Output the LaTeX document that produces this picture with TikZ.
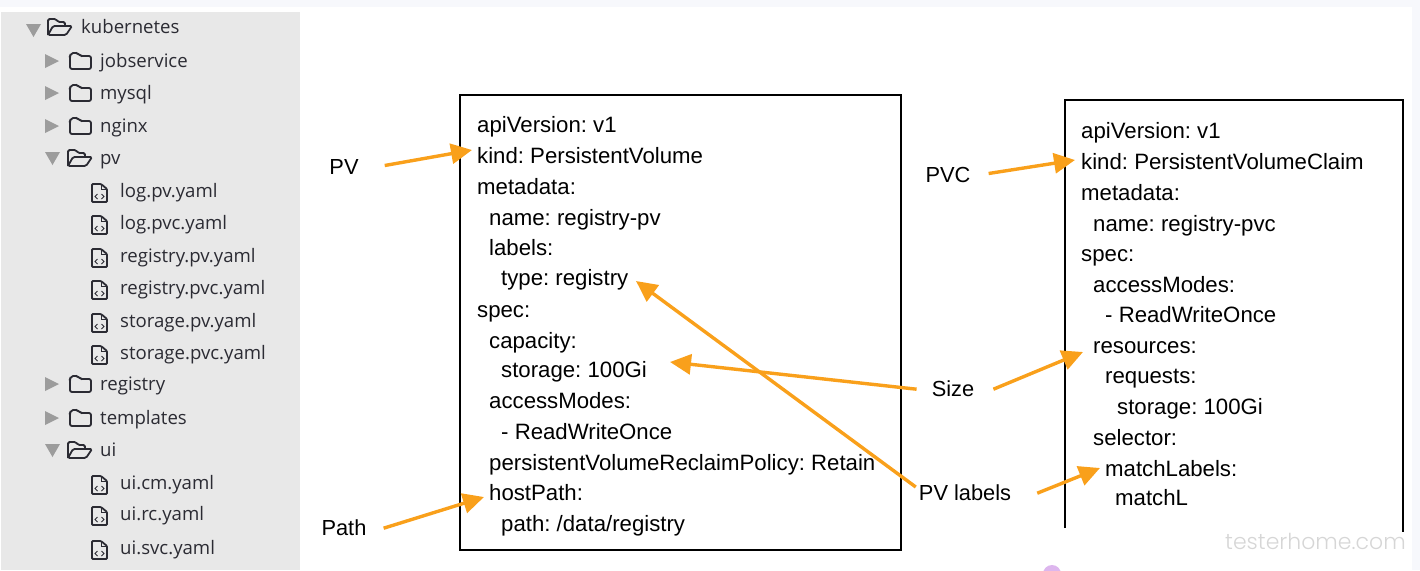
\documentclass[tikz,border=0pt]{standalone}
\usepackage{fontspec}
\usepackage{xcolor}
\usetikzlibrary{arrows.meta,positioning}
\setmainfont{Liberation Sans}
\newfontfamily\treefont{Open Sans}
\newfontfamily\markfont{Poppins Light}
\definecolor{panelgray}{HTML}{E8E8E8}
\definecolor{stripblue}{HTML}{F7F8FC}
\definecolor{arroworange}{HTML}{F9A01B}
\definecolor{tritone}{HTML}{9C9C9C}
\definecolor{treeink}{HTML}{2B2B33}
\definecolor{dotpurple}{HTML}{DDB6EE}
\tikzset{
  codeline/.style={anchor=base west,inner sep=0pt,font=\fontsize{22.2}{24}\selectfont\frenchspacing},
  calllabel/.style={anchor=base,inner sep=0pt,font=\fontsize{21.8}{24}\selectfont},
  treeline/.style={anchor=base west,inner sep=0pt,text=treeink,font=\treefont\fontsize{18.6}{20}\selectfont},
  callout/.style={draw=arroworange,line width=3.4pt,-{Triangle[length=21pt,width=20pt]}},
  yamlbox/.style={draw=black,line width=2pt},
  closedfolder/.pic={
    \draw[line width=1.8pt,treeink,rounded corners=2pt] (0,-5) -- (0,8) -- (21,8) -- (21,-5) -- (10,-5) -- (8,-8) -- (1,-8) -- cycle;
  },
  openfolder/.pic={
    \draw[line width=1.8pt,treeink,rounded corners=1.5pt] (0,8) -- (0,-8) -- (8,-8) -- (10,-5) -- (17,-5) -- (17,-1);
    \draw[line width=1.8pt,treeink,rounded corners=1.5pt] (0,8) -- (5,-1) -- (24,-1) -- (18,8) -- cycle;
  },
  yamlfile/.pic={
    \draw[line width=1.8pt,treeink,rounded corners=1pt] (0,-9) -- (9,-9) -- (15,-4) -- (15,9) -- (0,9) -- cycle;
    \draw[line width=1pt,treeink] (9,-9) -- (9,-4) -- (15,-4);
    \draw[line width=.8pt,treeink] (5.5,1) -- (3,3.5) -- (5.5,6) (9.5,1) -- (12,3.5) -- (9.5,6);
  }
}
\begin{document}
\begin{tikzpicture}[x=1pt,y=-1pt]
\useasboundingbox (0,0) rectangle (1420,570);
\fill[stripblue] (0,0) rectangle (1420,7);
\fill[stripblue] (1412,0) rectangle (1420,570);
\fill[panelgray] (1,12) rectangle (300,570);
\fill[dotpurple] (1052,574) circle (9);
% file tree
\fill[tritone] (26,24) -- (41,24) -- (33.5,37) -- cycle;
\pic at (48,27) {openfolder};
\node[treeline] (treekube) at (81,33) {kubernetes};
\foreach \name/\y in {jobservice/61,mysql/93,nginx/126,registry/384,templates/418} {
  \fill[tritone] (45,\y-7) -- (59,\y) -- (45,\y+7) -- cycle;
  \pic at (70,\y) {closedfolder};
  \node[treeline] (tree\name) at (100,\y+6) {\name};
}
\foreach \name/\y in {pv/158,ui/450} {
  \fill[tritone] (45,\y-6) -- (60,\y-6) -- (52.5,\y+7) -- cycle;
  \pic at (68,\y) {openfolder};
  \node[treeline] (tree\name) at (100,\y+6) {\name};
}
\foreach \name/\y in {
  log.pv.yaml/191,
  log.pvc.yaml/223,
  registry.pv.yaml/256,
  registry.pvc.yaml/288,
  storage.pv.yaml/321,
  storage.pvc.yaml/353,
  ui.cm.yaml/483,
  ui.rc.yaml/514,
  ui.svc.yaml/548
} {
  \pic at (92,\y+2) {yamlfile};
  \node[treeline] (tree\name) at (120,\y+6) {\name};
}
% PV box
\node[yamlbox,minimum width=441pt,minimum height=455pt,inner sep=0pt] (pvbox) at (680.5,322.5) {};
\foreach \code/\x/\y in {
  {apiVersion: v1}/477/132,
  {kind: PersistentVolume}/477/163,
  {metadata:}/477/194,
  {name: registry-pv}/489/225,
  {labels:}/489/255,
  {type: registry}/501/285,
  {spec:}/477/317,
  {capacity:}/489/348,
  {storage: 100Gi}/501/377,
  {accessModes:}/489/408,
  {- ReadWriteOnce}/501/439,
  {persistentVolumeReclaimPolicy: Retain}/489/470,
  {hostPath:}/489/500,
  {path: /data/registry}/501/531
} {
  \node[codeline] at (\x,\y) {\code};
}
% PVC box
\coordinate (pvctopleft) at (1065,100);
\coordinate (pvctopright) at (1403,100);
\coordinate (pvcbotleft) at (1065,528);
\coordinate (pvcbotright) at (1403,532);
\draw[yamlbox] (pvcbotleft) -- (pvctopleft) -- (pvctopright) -- (pvcbotright);
\foreach \code/\x/\y in {
  {apiVersion: v1}/1081/138,
  {kind: PersistentVolumeClaim}/1081/169,
  {metadata:}/1081/200,
  {name: registry-pvc}/1093/231,
  {spec:}/1081/261,
  {accessModes:}/1093/292,
  {- ReadWriteOnce}/1105/322,
  {resources:}/1093/353,
  {requests:}/1105/383,
  {storage: 100Gi}/1117/414,
  {selector:}/1093/445,
  {matchLabels:}/1105/476,
  {matchL}/1115/505
} {
  \node[codeline] at (\x,\y) {\code};
}
% labels
\node[calllabel] (pvlabel) at (344,174) {PV};
\node[calllabel] (pvclabel) at (948,182) {PVC};
\node[calllabel] (sizelabel) at (953,396) {Size};
\node[calllabel] (pathlabel) at (344,535) {Path};
\node[calllabel] (pvlabels) at (965,500) {PV labels};
% arrow heads
\coordinate (pvhead) at (472,150);
\coordinate (pvchead) at (1075,160);
\coordinate (storagehead) at (670,362);
\coordinate (resourcehead) at (1083,352);
\coordinate (typehead) at (636,281);
\coordinate (matchhead) at (1100,468);
\coordinate (pathhead) at (484,497);
\draw[callout] ([xshift=26pt,yshift=1pt]pvlabel.east) -- (pvhead);
\draw[callout] ([xshift=18pt,yshift=1pt]pvclabel.east) -- (pvchead);
\draw[callout] ([xshift=-15pt,yshift=-1pt]sizelabel.west) -- (storagehead);
\draw[callout] ([xshift=19pt,yshift=-1pt]sizelabel.east) -- (resourcehead);
\draw[callout] ([xshift=-3pt,yshift=-3pt]pvlabels.north west) -- (typehead);
\draw[callout] ([xshift=26pt,yshift=-1pt]pvlabels.east) -- (matchhead);
\draw[callout] ([xshift=17pt,yshift=-1pt]pathlabel.east) -- (pathhead);
% watermark
\node[anchor=base west,inner sep=0pt,text=black!16,font=\markfont\fontsize{22}{26}\selectfont] (watermark) at (1225,549) {testerhome.com};
\end{tikzpicture}
\end{document}
